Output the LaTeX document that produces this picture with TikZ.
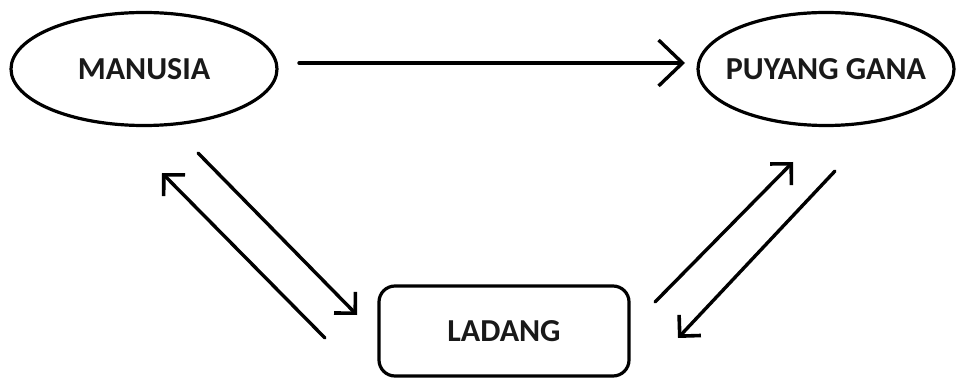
\documentclass[tikz,border=0pt]{standalone}
\usepackage{fontspec}
\setmainfont{Carlito}
\usepackage{tikz}
\usetikzlibrary{arrows.meta, shapes.geometric}

\begin{document}
\begin{tikzpicture}[
  x=1pt, y=-1pt,
  line width=3.4pt,
  oval/.style={ellipse, draw=black, line width=3.2pt, inner sep=0pt,
               font=\fontsize{32}{38}\selectfont\bfseries, text=black!90},
  field/.style={rectangle, rounded corners=16pt, draw=black, line width=3.2pt,
                inner sep=0pt, font=\fontsize{32}{38}\selectfont\bfseries,
                text=black!90},
  flow/.style={-{Straight Barb[length=24pt, width=46pt, line width=3.4pt]},
               draw=black, line cap=round},
  slant/.style={-{Straight Barb[length=15pt, width=30pt, line width=3.6pt]},
                draw=black, line cap=round},
]
\useasboundingbox (0,0) rectangle (957,379);

%% nodes
\node[oval, minimum width=266pt, minimum height=113pt] (manusia) at (144,69) {MANUSIA};
\node[oval, inner xsep=-10pt, minimum width=256pt, minimum height=113pt]
  (puyang) at (826,69) {PUYANG GANA};
\node[field, minimum width=250pt, minimum height=90pt] (ladang) at (504,331) {LADANG};

%% arrow end points
\coordinate (mp1) at (299,63);
\coordinate (mp2) at (685,63);
\coordinate (ml1) at (198,153);
\coordinate (ml2) at (357,315);
\coordinate (lm1) at (325,338);
\coordinate (lm2) at (162,173);
\coordinate (lp1) at (655,302);
\coordinate (lp2) at (793,162);
\coordinate (pl1) at (835,171);
\coordinate (pl2) at (678,338);

%% arrows
\draw[flow] (mp1) -- (mp2);
\draw[slant] (ml1) -- (ml2);
\draw[slant] (lm1) -- (lm2);
\draw[slant] (lp1) -- (lp2);
\draw[slant] (pl1) -- (pl2);

\end{tikzpicture}
\end{document}
